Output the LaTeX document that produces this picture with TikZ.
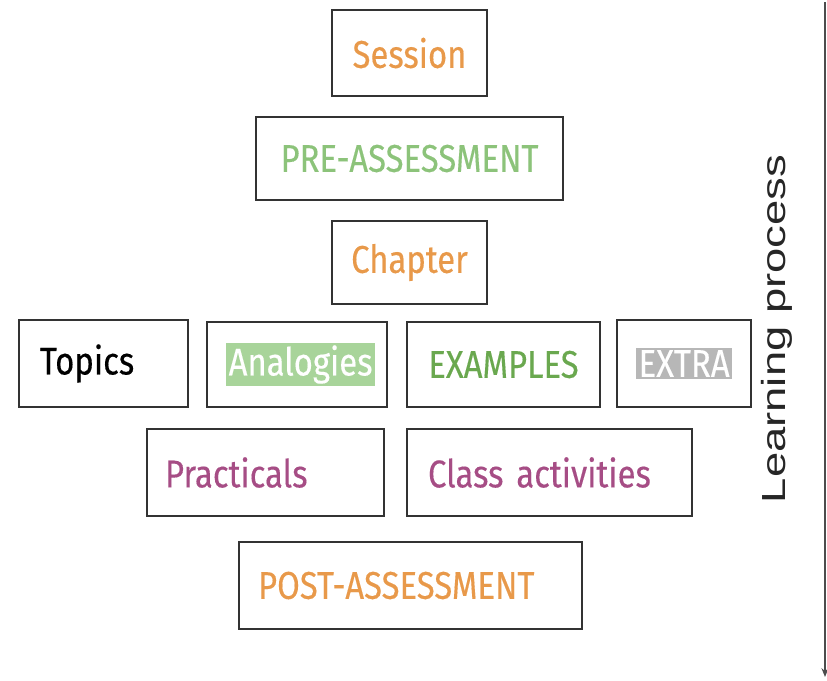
\documentclass[tikz,border=0pt]{standalone}
\usepackage{fontspec}
\setmainfont{Fira Sans}
\newfontfamily\stagefont[FakeStretch=0.85, FakeBold=0.3]{Fira Sans}
\newfontfamily\axisfont[FakeStretch=1.36]{Liberation Sans}
\usetikzlibrary{arrows.meta}

\definecolor{stageorange}{HTML}{E8994A}
\definecolor{stagegreen}{HTML}{8CC37A}
\definecolor{examplegreen}{HTML}{6AA84F}
\definecolor{highlightgreen}{HTML}{A8D49A}
\definecolor{extragrey}{HTML}{B7B7B7}
\definecolor{stageplum}{HTML}{A64D85}

\tikzset{
    stage/.style={draw=black!80, line width=1.1pt, inner xsep=0.38cm, inner ysep=0pt,
        font=\stagefont\fontsize{22}{25}\selectfont}
}
\newcommand{\hilite}[2]{{\setlength{\fboxsep}{1.5pt}\colorbox{#1}{\textcolor{white}{#2}}}}

\begin{document}
\begin{tikzpicture}[x=0.02cm, y=-0.02cm]
    \useasboundingbox (0,0) rectangle (827,680);

    % Course structure, top to bottom
    \node[stage, text width=2.34cm, minimum height=1.72cm, align=center, text=stageorange] (session) at (409.5,53) {Session};
    \node[stage, text width=5.38cm, minimum height=1.66cm, align=center, text=stagegreen] (pre) at (409.5,158.5) {PRE-ASSESSMENT};
    \node[stage, text width=2.34cm, minimum height=1.66cm, align=center, text=stageorange] (chapter) at (409.5,262.5) {Chapter};

    % Contents of a chapter
    \node[stage, text width=2.54cm, minimum height=1.74cm, align=left, inner xsep=0.42cm] (topics) at (103.5,363.5) {Topics};
    \node[stage, text width=2.84cm, minimum height=1.70cm, align=center] (analogies) at (297,364.5) {\hilite{highlightgreen}{Analogies}};
    \node[stage, text width=3.10cm, minimum height=1.70cm, align=center, text=examplegreen] (examples) at (503.5,364.5) {EXAMPLES};
    \node[stage, text width=1.92cm, minimum height=1.74cm, align=center] (extra) at (684,363.5) {\hilite{extragrey}{EXTRA}};

    % Hands-on work
    \node[stage, text width=4.02cm, minimum height=1.74cm, align=left, inner xsep=0.36cm, text=stageplum] (practicals) at (265.5,472.5) {Practicals};
    \node[stage, text width=4.86cm, minimum height=1.74cm, align=left, inner xsep=0.42cm, text=stageplum] (activities) at (549.5,472.5) {Class activities};

    \node[stage, text width=6.10cm, minimum height=1.74cm, align=left, text=stageorange] (post) at (410.5,585.5) {POST-ASSESSMENT};

    % Time axis on the right
    \coordinate (start) at (825,2);
    \coordinate (finish) at (825,677);
    \draw[-{Stealth[length=5pt, width=4pt]}, line width=1pt, black!70] (start) -- (finish);
    \node[rotate=90, font=\axisfont\fontsize{19}{22}\selectfont, text=black!85] (process) at (777,329) {Learning process};
\end{tikzpicture}
\end{document}
